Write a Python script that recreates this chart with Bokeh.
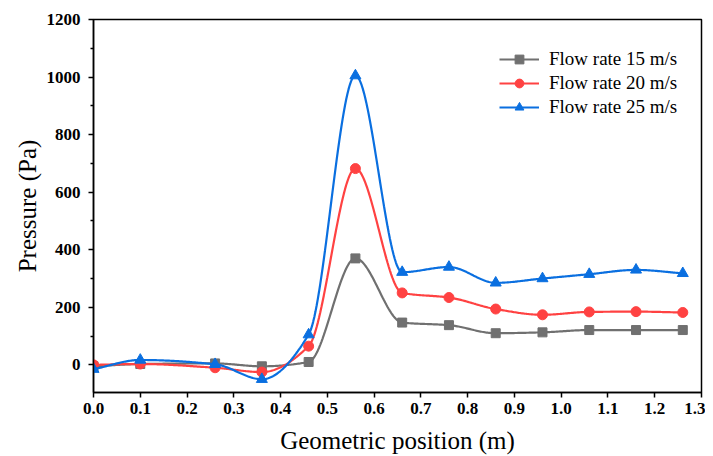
import numpy as np
from bokeh.plotting import figure
from bokeh.models import Range1d, FixedTicker, Legend, LegendItem
from bokeh.embed import file_html
from bokeh.resources import INLINE

# Data
positions = [0.0, 0.1, 0.26, 0.36, 0.46, 0.56, 0.66, 0.76, 0.86, 0.96, 1.06, 1.16, 1.26]
flow_15 = [-5, 3, 5, -5, 10, 370, 147, 138, 110, 113, 121, 121, 121]
flow_20 = [0, 3, -10, -25, 65, 682, 250, 234, 194, 174, 184, 185, 182]
flow_25 = [-15, 17, 2, -50, 105, 1005, 322, 340, 285, 300, 315, 330, 318]
series_names = ["Flow rate 15 m/s", "Flow rate 20 m/s", "Flow rate 25 m/s"]
x_ticks = [0.0, 0.1, 0.2, 0.3, 0.4, 0.5, 0.6, 0.7, 0.8, 0.9, 1.0, 1.1, 1.2, 1.3]
y_ticks = [0, 200, 400, 600, 800, 1000, 1200]

colors = ["#707070", "#ff4242", "#0a6fe0"]
FONT = "'Liberation Serif', 'Times New Roman', serif"


def pchip(x, y, n=500):
    x = np.asarray(x, float)
    y = np.asarray(y, float)
    h = np.diff(x)
    d = np.diff(y) / h
    k = len(x)
    m = np.zeros(k)
    for i in range(1, k - 1):
        if d[i - 1] * d[i] <= 0:
            m[i] = 0.0
        else:
            w1 = 2 * h[i] + h[i - 1]
            w2 = h[i] + 2 * h[i - 1]
            m[i] = (w1 + w2) / (w1 / d[i - 1] + w2 / d[i])
    m[0] = d[0]
    m[-1] = d[-1]
    xs = np.linspace(x[0], x[-1], n)
    ys = np.empty_like(xs)
    for j, xv in enumerate(xs):
        i = min(np.searchsorted(x, xv, side="right") - 1, k - 2)
        t = (xv - x[i]) / h[i]
        h00 = 2 * t ** 3 - 3 * t ** 2 + 1
        h10 = t ** 3 - 2 * t ** 2 + t
        h01 = -2 * t ** 3 + 3 * t ** 2
        h11 = t ** 3 - t ** 2
        ys[j] = h00 * y[i] + h10 * h[i] * m[i] + h01 * y[i + 1] + h11 * h[i] * m[i + 1]
    return xs, ys


p = figure(width=705, height=440, output_backend="svg", toolbar_location=None,
           x_range=Range1d(0, 1.3), y_range=Range1d(-96, 1200),
           min_border_left=93, min_border_top=19, min_border_right=4,
           min_border_bottom=48)
p.frame_width = 608
p.frame_height = 373

p.grid.visible = False
p.outline_line_color = "black"
p.outline_line_width = 1.5
p.background_fill_color = "white"
p.border_fill_color = "white"

for ax in (p.xaxis[0], p.yaxis[0]):
    ax.axis_line_width = 1.5
    ax.major_tick_line_width = 1.5
    ax.minor_tick_line_width = 1.5
    ax.major_tick_out = 5
    ax.major_tick_in = 0
    ax.minor_tick_out = 3
    ax.minor_tick_in = 0
    ax.major_label_text_font = FONT
    ax.major_label_text_font_style = "bold"
    ax.major_label_text_font_size = "17px"
    ax.major_label_text_color = "black"
    ax.axis_label_text_font = FONT
    ax.axis_label_text_font_style = "normal"
    ax.axis_label_text_font_size = "25px"
    ax.axis_label_text_color = "black"

p.xaxis.ticker = FixedTicker(ticks=x_ticks, minor_ticks=[])
p.xaxis.major_label_overrides = {t: f"{t:.1f}" for t in x_ticks}
p.xaxis.axis_label = "Geometric position (m)"
p.xaxis.major_label_standoff = 5
p.xaxis.axis_label_standoff = 10

p.yaxis.ticker = FixedTicker(ticks=y_ticks, minor_ticks=[-100, 100, 300, 500, 700, 900, 1100])
p.yaxis.axis_label = "Pressure (Pa)"
p.yaxis.major_label_standoff = 8
p.yaxis.axis_label_standoff = 3

items = []
all_series = [flow_15, flow_20, flow_25]
markers = ["square", "circle", "triangle"]
sizes = [9, 10, 11]
for vals, col, mk, sz, name in zip(all_series, colors, markers, sizes, series_names):
    xs, ys = pchip(positions, vals)
    ln = p.line(xs, ys, line_color=col, line_width=2.2)
    sc = p.scatter(positions, vals, marker=mk, size=sz, fill_color=col, line_color=col)
    items.append(LegendItem(label=name, renderers=[ln, sc]))

legend = Legend(items=items, border_line_color=None,
                background_fill_alpha=0, label_text_font=FONT,
                label_text_font_size="19px", label_text_color="black",
                glyph_width=40, glyph_height=22, spacing=2, padding=0,
                margin=0, label_standoff=10, location=(406, 274))
p.add_layout(legend)

open("out.html", "w").write(file_html(p, INLINE))
